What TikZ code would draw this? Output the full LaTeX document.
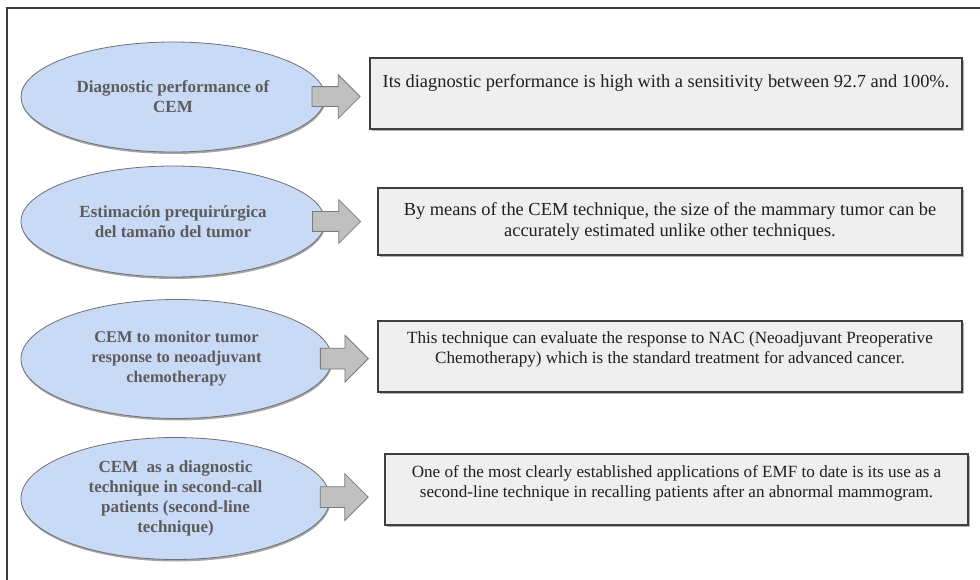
\documentclass[tikz,border=0pt]{standalone}
\usepackage{fontspec}
\setmainfont{Liberation Serif}
\usetikzlibrary{shapes.geometric,shapes.arrows,shadows}

\definecolor{ellfill}{RGB}{200,218,246}
\definecolor{elldraw}{RGB}{112,112,112}
\definecolor{elltext}{RGB}{92,92,92}
\definecolor{boxfill}{RGB}{239,239,239}
\definecolor{boxdraw}{RGB}{62,62,62}
\definecolor{arrfill}{RGB}{192,192,192}
\definecolor{arrdraw}{RGB}{122,122,122}
\definecolor{framecol}{RGB}{60,60,60}

\tikzset{
  topic/.style={ellipse, draw=elldraw, fill=ellfill, line width=0.8pt,
    inner sep=0pt, align=center, text=elltext,
    font=\bfseries\fontsize{17}{20}\selectfont,
    drop shadow={shadow xshift=0.6pt, shadow yshift=-2pt, fill=black, opacity=0.35}},
  note/.style={rectangle, draw=boxdraw, fill=boxfill, line width=1.2pt,
    inner sep=0pt, align=center, text=black!88,
    font=\fontsize{18.4}{20.5}\selectfont,
    drop shadow={shadow xshift=2pt, shadow yshift=-2pt, fill=black, opacity=0.3}},
  smallnote/.style={note, font=\fontsize{17.1}{20}\selectfont},
  blockarrow/.style={single arrow, draw=arrdraw, fill=arrfill, line width=0.8pt,
    minimum height=48pt, single arrow head extend=12pt,
    single arrow head indent=0pt, inner xsep=0pt, inner ysep=9.5pt},
  framing/.style={draw=framecol, line width=1.1pt}
}

\begin{document}
\begin{tikzpicture}[x=1pt, y=-1pt]
  \useasboundingbox (0,0) rectangle (980,580);

  % outer frame (open at right and bottom)
  \draw[framing] (7,585) -- (7,8) -- (985,8);

  % topics
  \node[topic, minimum width=304pt, minimum height=110pt] (e1) at (173,97)
    {Diagnostic performance of\\CEM};
  \node[topic, minimum width=304pt, minimum height=111pt] (e2) at (173,221.5)
    {Estimación prequirúrgica\\del tamaño del tumor};
  \node[topic, minimum width=311pt, minimum height=119pt,
        font=\bfseries\fontsize{16.4}{20}\selectfont] (e3) at (176.5,359)
    {CEM to monitor tumor\\response to neoadjuvant\\chemotherapy};
  \node[topic, minimum width=309pt, minimum height=122pt] (e4) at (175.5,498.5)
    {CEM\ \ as a diagnostic\\technique in second-call\\patients (second-line\\technique)};

  % descriptions
  \node[note, minimum width=592pt, minimum height=71pt] (b1) at (666,93.5)
    {Its diagnostic performance is high with a sensitivity between 92.7 and 100\%.\\[4pt]\mbox{}};
  \node[note, minimum width=584pt, minimum height=67pt] (b2) at (670,221.5)
    {By means of the CEM technique, the size of the mammary tumor can be\\accurately estimated unlike other techniques.};
  \node[smallnote, minimum width=584pt, minimum height=71pt] (b3) at (670,356.5)
    {This technique can evaluate the response to NAC (Neoadjuvant Preoperative\\Chemotherapy) which is the standard treatment for advanced cancer.\\[-3pt]\mbox{}};
  \node[smallnote, minimum width=583pt, minimum height=71pt] (b4) at (676.5,489.5)
    {One of the most clearly established applications of EMF to date is its use as a\\second-line technique in recalling patients after an abnormal mammogram.\\[-3pt]\mbox{}};

  % block arrows from each topic to its description
  \path (e1.east) -- (b1.west) node[blockarrow, pos=0.13] (a1) {};
  \path (e2.east) -- (b2.west) node[blockarrow, pos=0.12] (a2) {};
  \path (e3.east) -- (b3.west) node[blockarrow, pos=0.15, single arrow head extend=13pt, inner ysep=10pt] (a3) {};
  \path (e4.east) -- (b4.west) node[blockarrow, pos=0.16, single arrow head extend=13pt, inner ysep=10pt] (a4) {};
\end{tikzpicture}
\end{document}
